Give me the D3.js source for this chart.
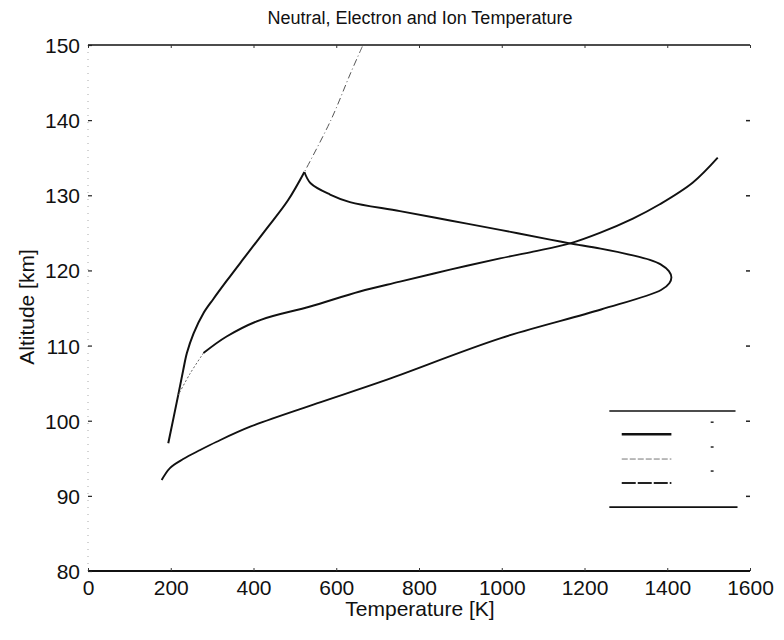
<!DOCTYPE html>
<html><head><meta charset="utf-8">
<script src="https://cdn.jsdelivr.net/npm/d3@7"></script>
<style>body{margin:0;background:#fff}svg{display:block}text{font-family:"Liberation Sans",Arial,sans-serif;fill:#111}</style>
</head><body><svg id="c" width="784" height="640"></svg>
<script>
// ---- data ----
const title = "Neutral, Electron and Ion Temperature";
const xTicks = [0,200,400,600,800,1000,1200,1400,1600];
const yTicks = [80,90,100,110,120,130,140,150];
// neutral temperature (K) vs altitude (km)
const neutralT   = [194,218,230,239,255,279,303,335,375,428,483,523,587,635,663];
const neutralAlt = [97.0,103.4,106.7,109.0,111.6,114.3,116.2,118.6,121.5,125.3,129.3,133.1,140.0,146.3,149.8];
// electron temperature (K) vs altitude (km)
const electronT   = [178,198,230,271,311,392,553,714,998,1240,1385,1405,1410,1404,1384,1358,1317,1239,1165,1117,996,875,754,633,585,538,523];
const electronAlt = [92.1,93.7,94.9,96.1,97.2,99.2,102.3,105.3,111.0,114.8,117.4,118.3,119.1,119.9,120.8,121.4,122.0,122.9,123.6,124.1,125.4,126.65,127.9,129.1,130.1,131.6,133.1];
// ion temperature (K) vs altitude (km)
const ionT   = [218,247,279,335,416,537,657,754,875,996,1076,1165,1237,1317,1382,1462,1522];
const ionAlt = [103.4,106.3,109.0,111.2,113.4,115.2,117.2,118.5,120.1,121.6,122.5,123.6,125.0,126.9,128.8,131.7,135.0];
const cuspAlt = 133.1;   // neutral drawn solid below, faint above
const ionSolidFrom = 109.0;

// ---- chart ----
const svg = d3.select("#c");
const x = d3.scaleLinear().domain([0,1600]).range([88,750]);
const y = d3.scaleLinear().domain([80,150]).range([571,45]);
const line = d3.line().x(d=>x(d[0])).y(d=>y(d[1])).curve(d3.curveCatmullRom.alpha(0.5));
const zip = (a,b)=>a.map((v,i)=>[v,b[i]]).sort((p,q)=>q[1]-p[1]);
const neutral = zip(neutralT,neutralAlt);
const electron = zip(electronT,electronAlt);
const ion = zip(ionT,ionAlt);

// frame: top & bottom solid, left dotted, right invisible
svg.append("line").attr("x1",x(0)).attr("x2",x(1600)).attr("y1",y(150)).attr("y2",y(150)).attr("stroke","#111").attr("stroke-width",1.6);
svg.append("line").attr("x1",x(0)).attr("x2",x(1600)).attr("y1",y(80)).attr("y2",y(80)).attr("stroke","#111").attr("stroke-width",1.8);
svg.append("line").attr("x1",x(0)).attr("x2",x(0)).attr("y1",y(150)).attr("y2",y(80)).attr("stroke","#aaa").attr("stroke-width",1).attr("stroke-dasharray","1,6");

// x axis ticks (bottom & top, inward) via d3 axis
const xb = svg.append("g").attr("transform",`translate(0,${y(80)})`)
  .call(d3.axisBottom(x).tickValues(xTicks).tickSize(-3).tickPadding(9).tickFormat(d3.format("d")));
xb.select(".domain").remove();
xb.selectAll("text").attr("font-size",21).attr("fill","#111").attr("font-family","Liberation Sans, Arial, sans-serif");
xb.selectAll("line").attr("stroke","#333");
const xt = svg.append("g").attr("transform",`translate(0,${y(150)})`)
  .call(d3.axisTop(x).tickValues(xTicks).tickSize(-3).tickFormat(""));
xt.select(".domain").remove();
xt.selectAll("line").attr("stroke","#333");

// y axis ticks left (inward) and labels
const yl = svg.append("g").attr("transform",`translate(${x(0)},0)`)
  .call(d3.axisLeft(y).tickValues(yTicks).tickSize(-4).tickPadding(8).tickFormat(d3.format("d")));
yl.select(".domain").remove();
yl.selectAll("text").attr("font-size",21).attr("fill","#111").attr("font-family","Liberation Sans, Arial, sans-serif").attr("dy","0.36em");
yl.selectAll("line").attr("stroke","#222").attr("stroke-width",1.2);
// y axis ticks right (inward), no line
const yr = svg.append("g").attr("transform",`translate(${x(1600)},0)`)
  .call(d3.axisRight(y).tickValues(yTicks.filter(v=>v>80&&v<150)).tickSize(-4).tickFormat(""));
yr.select(".domain").remove();
yr.selectAll("line").attr("stroke","#222").attr("stroke-width",1.5);

// curves
svg.append("path").datum(neutral.filter(d=>d[1]>=cuspAlt)).attr("d",line)
  .attr("fill","none").attr("stroke","#555").attr("stroke-width",1).attr("stroke-dasharray","7,3,1,3");
svg.append("path").datum(neutral.filter(d=>d[1]<=cuspAlt)).attr("d",line)
  .attr("fill","none").attr("stroke","#111").attr("stroke-width",2);
svg.append("path").datum(ion.filter(d=>d[1]<=ionSolidFrom+0.01)).attr("d",line)
  .attr("fill","none").attr("stroke","#666").attr("stroke-width",1).attr("stroke-dasharray","2,2");
svg.append("path").datum(ion.filter(d=>d[1]>=ionSolidFrom)).attr("d",line)
  .attr("fill","none").attr("stroke","#111").attr("stroke-width",1.9);
svg.append("path").datum(electron).attr("d",line)
  .attr("fill","none").attr("stroke","#111").attr("stroke-width",1.9);

// legend (box with lines; text lost in original)
const lg = svg.append("g");
const lx0 = x(1260), lx1 = x(1565);
lg.append("line").attr("x1",lx0).attr("x2",lx1).attr("y1",y(101.3)).attr("y2",y(101.3)).attr("stroke","#111").attr("stroke-width",1.6);
lg.append("line").attr("x1",lx0).attr("x2",lx1+2).attr("y1",y(88.5)).attr("y2",y(88.5)).attr("stroke","#111").attr("stroke-width",1.6);
const legendStyles = [{alt:98.2,w:2.6,c:"#111",da:null},{alt:94.9,w:1,c:"#777",da:"6,2"},{alt:91.7,w:2,c:"#222",da:"14,2"}];
legendStyles.forEach(s=>{
  lg.append("line").attr("x1",x(1290)).attr("x2",x(1410)).attr("y1",y(s.alt)).attr("y2",y(s.alt))
    .attr("stroke",s.c).attr("stroke-width",s.w).attr("stroke-dasharray",s.da);
  lg.append("line").attr("x1",x(1505)).attr("x2",x(1512)).attr("y1",y(s.alt+1.6)).attr("y2",y(s.alt+1.6))
    .attr("stroke","#333").attr("stroke-width",1.6);
});

// titles
svg.append("text").attr("x",420).attr("y",24).attr("text-anchor","middle").attr("font-size",18).text(title);
svg.append("text").attr("x",420).attr("y",616).attr("text-anchor","middle").attr("font-size",21).text("Temperature [K]");
svg.append("text").attr("transform","translate(34,307) rotate(-90)").attr("text-anchor","middle").attr("font-size",21).text("Altitude [km]");
</script></body></html>
